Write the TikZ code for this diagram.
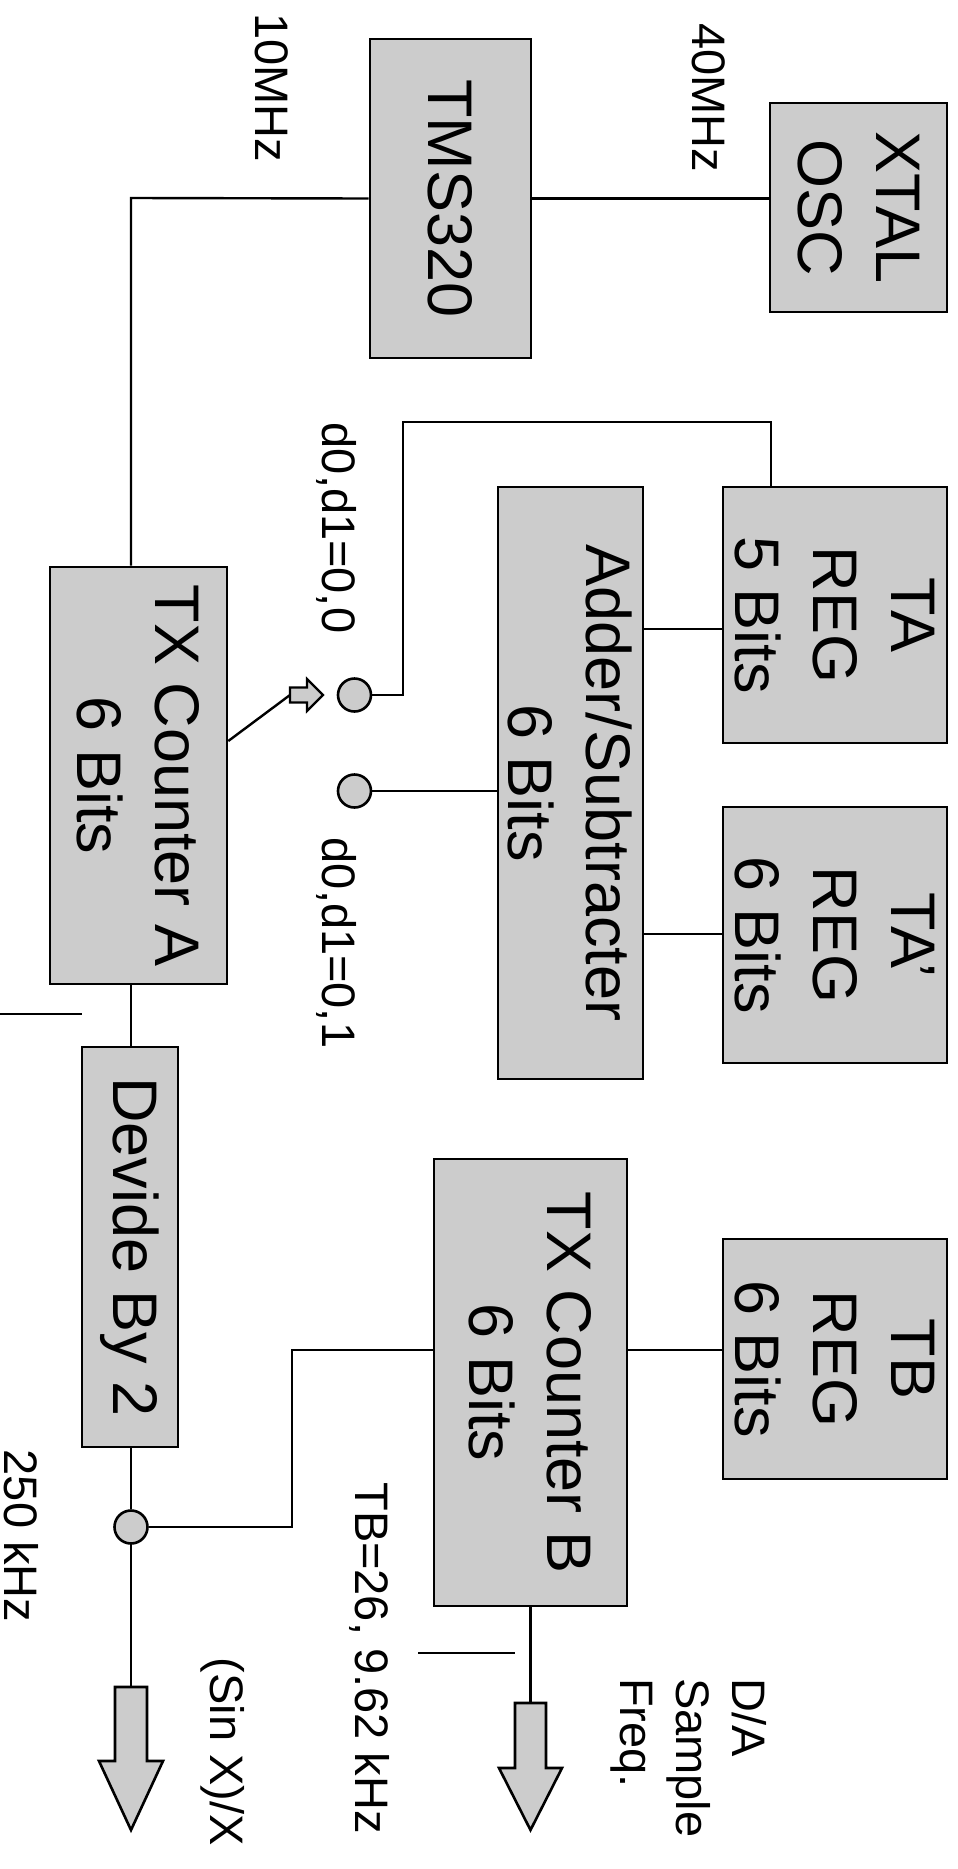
\documentclass[tikz,border=0pt]{standalone}
\usepackage{fontspec}
\setmainfont{Liberation Sans}
\definecolor{boxgray}{RGB}{204,204,204}
\begin{document}
\begin{tikzpicture}[x=1pt,y=-1pt,
  blk/.style={draw=black, line width=2.6pt, fill=boxgray, inner sep=0pt},
  bigtxt/.style={rotate=-90, align=center, font=\fontsize{63}{78}\selectfont, inner sep=0pt},
  smalltxt/.style={rotate=-90, font=\fontsize{47}{56}\selectfont, inner sep=0pt},
  wire/.style={draw=black, line width=2.4pt, line join=miter},
  dot/.style={circle, draw=black, line width=2.6pt, fill=boxgray, minimum size=33pt, inner sep=0pt},
  blockarrow/.style={draw=black, line width=2.6pt, fill=boxgray, line join=miter}
]
\useasboundingbox (0,0) rectangle (958,1869);

% boxes
\node[blk, minimum width=161pt, minimum height=319pt] (tms) at (450.5,198.5) {};
\node[bigtxt] (tmsT) at (tms.center) {TMS320};
\node[blk, minimum width=177pt, minimum height=209pt] (xtal) at (858.5,207.5) {};
\node[bigtxt] (xtalT) at (xtal.center) {XTAL\\OSC};
\node[blk, minimum width=177pt, minimum height=417pt] (txa) at (138.5,775.5) {};
\node[bigtxt] (txaT) at (txa.center) {TX Counter A\\6 Bits};
\node[blk, minimum width=145pt, minimum height=592pt] (add) at (570.5,783) {};
\node[bigtxt] (addT) at (add.center) {Adder/Subtracter\\6 Bits};
\node[blk, minimum width=224pt, minimum height=256pt] (tar) at (835,615) {};
\node[bigtxt] (tarT) at (tar.center) {TA\\REG\\5 Bits};
\node[blk, minimum width=224pt, minimum height=256pt] (tap) at (835,935) {};
\node[bigtxt] (tapT) at (tap.center) {TA’\\REG\\6 Bits};
\node[blk, minimum width=224pt, minimum height=240pt] (tbr) at (835,1359) {};
\node[bigtxt] (tbrT) at (tbr.center) {TB\\REG\\6 Bits};
\node[blk, minimum width=193pt, minimum height=447pt] (txb) at (530.5,1382.5) {};
\node[bigtxt] (txbT) at (txb.center) {TX Counter B\\6 Bits};
\node[blk, minimum width=96pt, minimum height=400pt] (dev) at (130,1247) {};
\node[bigtxt] (devT) at (dev.center) {Devide By 2};

% switch contacts
\node[dot] (c1) at (354.5,695) {};
\node[dot] (c2) at (354.5,791) {};
\node[dot] (c3) at (131,1527) {};

% coordinates
\coordinate (k1) at (131,198);
\coordinate (swt) at (290,695);
\coordinate (la) at (131,1687);
\coordinate (ra) at (530.5,1703);
\coordinate (k2) at (292,1350);
\coordinate (k3) at (771,422);
\coordinate (k4) at (403,422);

% wires
\draw[wire] (tms.west) -- (k1) -- (k1 |- txa.north);
\draw[wire] (tms.east) -- (tms.east -| xtal.west);
\draw[wire] (k1 |- txa.south) -- (k1 |- dev.north);
\draw[wire] (c3 |- dev.south) -- (c3.north);
\draw[wire] (c3.south) -- (la);
\draw[wire] (c3.east) -- (c3.east -| k2) -- (k2) -- (k2 -| txb.west);
\draw[wire] (k2 -| txb.east) -- (k2 -| tbr.west);
\draw[wire] (txb.south) -- (ra);
\draw[wire] (k3 |- tar.north) -- (k3) -- (k4) -- (k4 |- c1.east) -- (c1.east);
\draw[wire] (c2.east) -- (c2.east -| add.west);
\draw[wire] (add.east |- 0,629) -- (tar.west |- 0,629);
\draw[wire] (add.east |- 0,934) -- (tap.west |- 0,934);
\draw[wire] (txa.east |- 0,741) -- (swt);
\draw[wire] (0,1014) -- (82,1014);
\draw[wire] (418,1653) -- (515,1653);

% block arrows
\draw[blockarrow, line width=2.2pt] (swt) -- (290,687.5) -- (307,687.5) -- (307,679) -- (323,695) -- (307,711) -- (307,702.5) -- (290,702.5) -- cycle;
\draw[blockarrow] (115,1687) -- (147,1687) -- (147,1761) -- (163,1761) -- (131,1830) -- (99,1761) -- (115,1761) -- cycle;
\draw[blockarrow] (515,1703) -- (546,1703) -- (546,1768) -- (562,1768) -- (530.5,1830) -- (499,1768) -- (515,1768) -- cycle;

% labels
\node[smalltxt, anchor=base] (l10) at (255,87.5) {10MHz};
\node[smalltxt, anchor=base] (l40) at (692,98) {40MHz};
\node[smalltxt, anchor=base] (ld00) at (322,528) {d0,d1=0,0};
\node[smalltxt, anchor=base] (ld01) at (322,943) {d0,d1=0,1};
\node[smalltxt, anchor=base] (l250) at (5,1536) {250 kHz};
\node[smalltxt, anchor=base] (lsinc) at (210,1752) {(Sin X)/X};
\node[smalltxt, anchor=base] (ltb) at (355,1658) {TB=26, 9.62 kHz};
\node[smalltxt, align=left, anchor=north west] (lda) at (767,1678) {D/A\\Sample\\Freq.};
\end{tikzpicture}
\end{document}
